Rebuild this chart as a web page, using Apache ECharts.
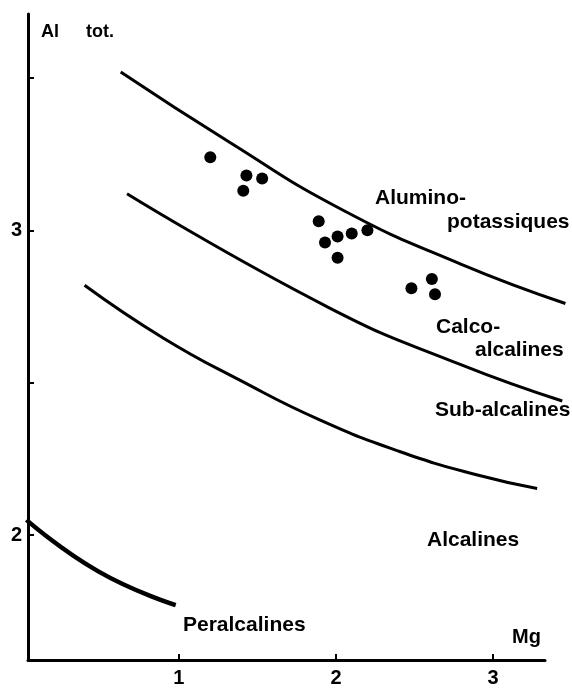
<!DOCTYPE html>
<html>
<head>
<meta charset="utf-8">
<script src="https://cdn.jsdelivr.net/npm/echarts@6/dist/echarts.min.js"></script>
<style>
  html, body { margin: 0; padding: 0; background: #fff; }
  #box { width: 572px; height: 689px; }
</style>
</head>
<body>
<div id="box"></div>
<script>
// boundary curves, [Mg, Al tot.]
const alumPotLine = [[0.63, 3.52], [1.32, 3.29], [2.03, 3.07], [2.79, 2.89], [3.46, 2.76]]
const calcoSubLine = [[0.67, 3.12], [1.96, 2.745], [2.79, 2.56], [3.44, 2.44]]
const subAlcLine = [[0.40, 2.82], [0.9, 2.647], [1.4, 2.505], [1.9, 2.377], [2.4, 2.275], [2.9, 2.197], [3.28, 2.153]]
const peralcLine = [[0.03, 2.05], [0.49, 1.88], [0.98, 1.77]]

// samples
const samples = [
  [1.20, 3.24], [1.43, 3.18], [1.53, 3.17], [1.41, 3.13],
  [1.89, 3.03], [1.93, 2.96], [2.01, 2.98], [2.10, 2.99], [2.20, 3.00], [2.01, 2.91],
  [2.48, 2.81], [2.61, 2.84], [2.63, 2.79]
]

const xTicks = [1, 2, 3]
const yTicks = [2, 2.5, 3, 3.5]
const yLabels = [2, 3]

const regionLabels = [
  { text: 'Alumino-', x: 375, y: 198 },
  { text: 'potassiques', x: 447, y: 222 },
  { text: 'Calco-', x: 436, y: 327 },
  { text: 'alcalines', x: 475, y: 350 },
  { text: 'Sub-alcalines', x: 435, y: 410 },
  { text: 'Alcalines', x: 427, y: 540 },
  { text: 'Peralcalines', x: 183, y: 625 }
]

const FONT = '"Liberation Sans", Arial, sans-serif'

const chart = echarts.init(document.getElementById('box'))

function curve(data, width) {
  return {
    type: 'line',
    xAxisIndex: 1,
    yAxisIndex: 1,
    data: data,
    smooth: 0.5,
    showSymbol: false,
    symbol: 'none',
    silent: true,
    lineStyle: { color: '#000', width: width }
  }
}

function label(text, x, y, size) {
  return {
    type: 'text', x: x, y: y,
    style: { text: text, font: 'bold ' + size + 'px ' + FONT, fill: '#000', verticalAlign: 'middle' }
  }
}

const texts = regionLabels.map(l => label(l.text, l.x, l.y, 21))
texts.push(label('Al', 41, 32, 18))
texts.push(label('tot.', 86, 32, 18))
texts.push(label('Mg', 512, 637, 20))

const hiddenAxis = {
  show: false, axisLine: { show: false }, axisTick: { show: false },
  axisLabel: { show: false }, splitLine: { show: false }
}

chart.setOption({
  animation: false,
  backgroundColor: '#fff',
  grid: [
    { left: 28, right: 27, top: 14, bottom: 29 },
    { left: 28, right: 5, top: 14, bottom: 29 }
  ],
  xAxis: [
    {
      type: 'value',
      gridIndex: 0,
      min: 0.04,
      max: 3.33,
      axisLine: { lineStyle: { color: '#000', width: 3 } },
      axisTick: { inside: true, length: 6, customValues: xTicks, lineStyle: { color: '#000', width: 2 } },
      axisLabel: { customValues: xTicks, color: '#000', fontSize: 20, fontWeight: 'bold', fontFamily: FONT, margin: 8 },
      splitLine: { show: false }
    },
    Object.assign({ type: 'value', gridIndex: 1, min: 0.04, max: 3.47 }, hiddenAxis)
  ],
  yAxis: [
    {
      type: 'value',
      gridIndex: 0,
      min: 1.59,
      max: 3.71,
      axisLine: { lineStyle: { color: '#000', width: 3 } },
      axisTick: { inside: true, length: 6, customValues: yTicks, lineStyle: { color: '#000', width: 2 } },
      axisLabel: { customValues: yLabels, color: '#000', fontSize: 20, fontWeight: 'bold', fontFamily: FONT, margin: 6 },
      splitLine: { show: false }
    },
    Object.assign({ type: 'value', gridIndex: 1, min: 1.59, max: 3.71 }, hiddenAxis)
  ],
  graphic: texts,
  series: [
    curve(alumPotLine, 3),
    curve(calcoSubLine, 3),
    curve(subAlcLine, 3),
    curve(peralcLine, 4.5),
    {
      type: 'scatter',
      data: samples,
      symbolSize: 12,
      itemStyle: { color: '#000', opacity: 1 }
    }
  ]
})
</script>
</body>
</html>
